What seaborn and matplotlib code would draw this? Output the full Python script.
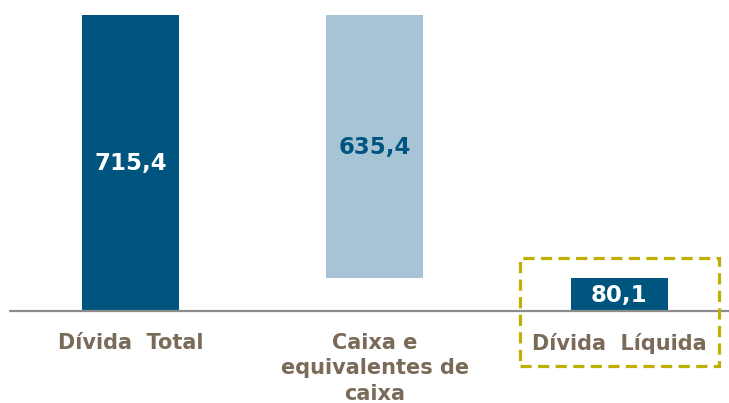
import numpy as np
import pandas as pd
import matplotlib
matplotlib.use('Agg')
import matplotlib.pyplot as plt
import matplotlib.patches as patches
import seaborn as sns

# dados do gráfico (R$ milhões)
categorias = ['Dívida  Total', 'Caixa e\nequivalentes de\ncaixa', 'Dívida  Líquida']
valores = [715.4, 635.4, 80.1]
rotulos = ['715,4', '635,4', '80,1']

# waterfall: inicio e fim de cada barra
topos = [valores[0], valores[0], valores[2]]
bases = [0, valores[0] - valores[1], 0]

azul = '#00557f'
azul_claro = '#a7c4d6'
marrom = '#7a6a58'
amarelo = '#bdb000'

sns.set_theme(style='white')
plt.rcParams['font.family'] = ['DejaVu Sans']

fig = plt.figure(figsize=(7.29, 4.03), dpi=100)
ax = fig.add_axes([10/729, 92/403, 719/729, 311/403])

df = pd.DataFrame({'cat': categorias, 'topo': topos})
sns.barplot(data=df, x='cat', y='topo', hue='cat', palette=[azul, azul_claro, azul],
            width=0.397, legend=False, ax=ax, saturation=1)

for p, b, t in zip(ax.patches, bases, topos):
    p.set_y(b)
    p.set_height(t - b)
    p.set_edgecolor('none')

ax.set_xlim(-0.493, 2.45)
ax.set_ylim(0, valores[0] * 311 / 296)
ax.axhline(0, color='#8c8c8c', lw=1.6, clip_on=False)

cores_txt = ['white', azul, 'white']
for i, (b, t) in enumerate(zip(bases, topos)):
    ax.text(i, (b + t) / 2 - 2, rotulos[i], ha='center', va='center', color=cores_txt[i],
            fontsize=16.5, fontweight='bold')

ax.set_xticks([])
ax.set_yticks([])
ax.set_xlabel('')
ax.set_ylabel('')
for i, c in enumerate(categorias):
    ax.text(i, -52, c, ha='center', va='top', color=marrom, fontsize=15,
            fontweight='bold', linespacing=1.36, clip_on=False)
sns.despine(ax=ax, left=True, bottom=True, top=True, right=True)

# caixa tracejada de destaque
x0, x1, y0, y1 = 520, 719, 258, 366
caixa = patches.Rectangle((x0 / 729, 1 - y1 / 403), (x1 - x0) / 729, (y1 - y0) / 403,
                          transform=fig.transFigure, fill=False, edgecolor=amarelo,
                          lw=2.3, linestyle=(0, (3.5, 2)), clip_on=False)
fig.patches.append(caixa)

fig.savefig('out.png', dpi=100)
